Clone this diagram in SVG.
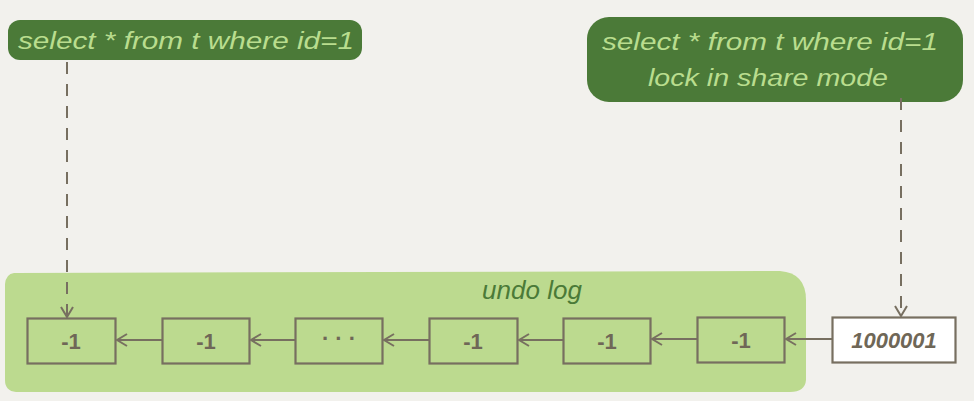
<svg xmlns="http://www.w3.org/2000/svg" width="974" height="401" viewBox="0 0 974 401">
<style>
.bubble{fill:#4b7a38}
.qt{fill:#b9dd8e;font-family:"Liberation Sans",sans-serif;font-size:23px;font-style:italic}
.box{fill:none;stroke:#776f60;stroke-width:2.2}
.val{fill:#6f6757;font-family:"Liberation Sans",sans-serif;font-size:22px;font-weight:bold;text-anchor:middle}
.conn{stroke:#776f60;stroke-width:2;fill:none}
.dash{stroke:#776f60;stroke-width:2;fill:none;stroke-dasharray:12,10}
</style>
<defs>
<marker id="ad" markerWidth="14" markerHeight="14" refX="13" refY="7" orient="auto" markerUnits="userSpaceOnUse">
<path d="M3,1 L13,7 L3,13" fill="none" stroke="#776f60" stroke-width="2"/>
</marker>
</defs>
<rect width="974" height="401" fill="#f2f1ed"/>
<g id="undo-region">
<path d="M14,273 L780,271 Q806,273 806,300 L806,380 Q805,392 790,392 L16,392 Q5,391 5,380 L5,284 Q6,274 14,273 Z" fill="#bcda8f"/>
<text x="532" y="299" fill="#4b7a38" font-family="Liberation Sans,sans-serif" font-size="26" font-style="italic" text-anchor="middle">undo log</text>
</g>
<g id="query1">
<rect class="bubble" x="8" y="20" width="354" height="40" rx="12"/>
<text class="qt" x="18" y="49" textLength="336" lengthAdjust="spacingAndGlyphs">select * from t where id=1</text>
</g>
<g id="query2">
<rect class="bubble" x="587" y="17" width="376" height="85" rx="22"/>
<text class="qt" x="602" y="50" textLength="336" lengthAdjust="spacingAndGlyphs">select * from t where id=1</text>
<text class="qt" x="648" y="86" textLength="240" lengthAdjust="spacingAndGlyphs">lock in share mode</text>
</g>
<g id="v1"><rect class="box" x="27.5" y="318.5" width="88" height="45"/><text class="val" x="71" y="349">-1</text></g>
<g id="v2"><rect class="box" x="162.5" y="318.5" width="87" height="45"/><text class="val" x="206" y="349">-1</text></g>
<g id="v3"><rect class="box" x="295.5" y="318.5" width="87" height="45"/><text class="val" x="339" y="346">· · ·</text></g>
<g id="v4"><rect class="box" x="429.5" y="318.5" width="88" height="45"/><text class="val" x="473" y="349">-1</text></g>
<g id="v5"><rect class="box" x="563.5" y="318.5" width="87" height="45"/><text class="val" x="607" y="349">-1</text></g>
<g id="v6"><rect class="box" x="697.5" y="317.5" width="87" height="45"/><text class="val" x="741" y="348">-1</text></g>
<g id="current"><rect x="832.5" y="317.5" width="123" height="45" fill="#ffffff" stroke="#776f60" stroke-width="2.2"/><text class="val" x="894" y="348" font-style="italic">1000001</text></g>
<g id="connectors">
<line class="conn" x1="162" y1="340" x2="117" y2="340" marker-end="url(#ad)"/>
<line class="conn" x1="295" y1="340" x2="251" y2="340" marker-end="url(#ad)"/>
<line class="conn" x1="429" y1="340" x2="384" y2="340" marker-end="url(#ad)"/>
<line class="conn" x1="563" y1="340" x2="519" y2="340" marker-end="url(#ad)"/>
<line class="conn" x1="697" y1="339" x2="652" y2="339" marker-end="url(#ad)"/>
<line class="conn" x1="832" y1="339" x2="786" y2="339" marker-end="url(#ad)"/>
<line class="dash" x1="67" y1="62" x2="67" y2="317" marker-end="url(#ad)"/>
<line class="dash" x1="901" y1="98" x2="901" y2="316" marker-end="url(#ad)"/>
</g>
</svg>
